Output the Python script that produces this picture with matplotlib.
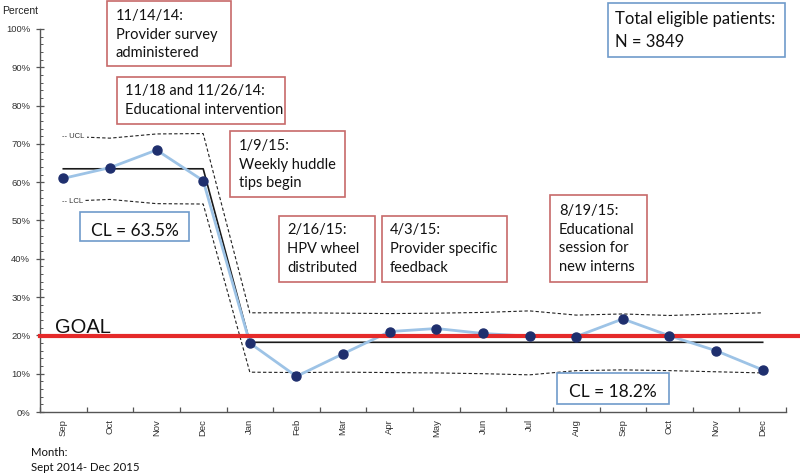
import matplotlib
matplotlib.use("Agg")
import matplotlib.pyplot as plt
from matplotlib.patches import Rectangle
from matplotlib.ticker import MultipleLocator, FixedLocator, FuncFormatter

# ---------------- data ----------------
months = ["Sep", "Oct", "Nov", "Dec", "Jan", "Feb", "Mar", "Apr", "May", "Jun",
          "Jul", "Aug", "Sep", "Oct", "Nov", "Dec"]
percent = [61.0, 63.8, 68.4, 60.4, 18.0, 9.3, 15.2, 21.0, 21.8, 20.5,
           19.8, 19.7, 24.3, 19.9, 16.0, 11.0]
cl_pre, cl_post = 63.5, 18.2
ucl_pre = [72.0, 71.5, 72.6, 72.7]
lcl_pre = [55.0, 55.5, 54.4, 54.3]
ucl_post = [25.9, 25.9, 25.8, 25.7, 25.8, 26.0, 26.4, 25.3, 25.6, 25.2, 25.6, 25.9]
lcl_post = [10.4, 10.3, 10.4, 10.3, 10.2, 10.0, 9.7, 10.8, 11.0, 10.8, 10.5, 10.2]
goal = 19.8
yticks = [0, 10, 20, 30, 40, 50, 60, 70, 80, 90, 100]

# ---------------- figure ----------------
W, H = 800, 473
fig = plt.figure(figsize=(W / 100, H / 100), dpi=100)
ax = fig.add_axes([40 / W, 1 - 412 / H, 746 / W, 383 / H])

x = list(range(len(months)))
n_pre = len(ucl_pre)

axis_font = "Liberation Sans"
box_font = "Lato"

# control limits
dash = (0, (3, 2))
ucl_all = ucl_pre + ucl_post
lcl_all = lcl_pre + lcl_post
ax.plot(x, ucl_all, color="#222222", lw=0.8, ls=dash, zorder=2)
ax.plot(x, lcl_all, color="#222222", lw=0.8, ls=dash, zorder=2)

# center line
cl_all = [cl_pre] * n_pre + [cl_post] * (len(months) - n_pre)
ax.plot(x, cl_all, color="#1a1a1a", lw=1.2, zorder=3)

# data line
ax.plot(x, percent, color="#9DC3E6", lw=2.0, zorder=4, solid_capstyle="round")

# goal line (extends past the axis end)
ax.plot([-0.5, 15.8], [goal, goal], color="#E52A2A", lw=3.0, zorder=5, clip_on=False)

# markers
ax.plot(x, percent, ls="none", marker="o", ms=6.5, color="#1F2F6E", zorder=6)

# UCL / LCL labels
for val, lab in ((ucl_pre[0], "UCL"), (lcl_pre[0], "LCL")):
    ax.text(-0.02, val, "-- " + lab, fontsize=5.5, family=axis_font, color="#333333",
            ha="left", va="center", zorder=7,
            bbox=dict(boxstyle="square,pad=0.25", fc="white", ec="none"))

ax.set_xlim(-0.5, len(months) - 0.5)
ax.set_ylim(0, 100)

ax.spines["top"].set_visible(False)
ax.spines["right"].set_visible(False)
for s in ("left", "bottom"):
    ax.spines[s].set_color("#555555")
    ax.spines[s].set_linewidth(1.0)

ax.yaxis.set_major_locator(FixedLocator(yticks))
ax.yaxis.set_minor_locator(MultipleLocator(2))
ax.yaxis.set_major_formatter(FuncFormatter(lambda v, p: f"{v:.0f}%"))
ax.tick_params(axis="y", which="major", direction="inout", length=6, width=0.9,
               color="#555555", pad=4, labelsize=6.8, labelcolor="#333333")
ax.tick_params(axis="y", which="minor", direction="in", length=2.5, width=0.7,
               color="#555555")

ax.set_xticks(x)
ax.set_xticklabels(months, rotation=90, fontsize=6.8, color="#333333", family=axis_font)
ax.xaxis.set_minor_locator(FixedLocator([i - 0.5 for i in range(len(months) + 1)]))
ax.tick_params(axis="x", which="major", length=0, pad=5)
ax.tick_params(axis="x", which="minor", direction="in", length=3.5, width=0.9,
               color="#555555")
for lab in ax.get_yticklabels():
    lab.set_family(axis_font)

# ---------------- texts / boxes in pixel coordinates ----------------
def fx(px):
    return px / W


def fy(py):
    return 1 - py / H


def box(x0, y0, x1, y1, ec):
    fig.patches.append(Rectangle((fx(x0), fy(y1)), fx(x1) - fx(x0), fy(y0) - fy(y1),
                                 transform=fig.transFigure, fill=True, fc="white",
                                 ec=ec, lw=1.2, zorder=10))


def lines(px, base0, step, rows, size=10.5, ha="left", family=box_font):
    for i, r in enumerate(rows):
        fig.text(fx(px), fy(base0 + i * step), r, fontsize=size, family=family,
                 color="#111111", ha=ha, va="baseline", zorder=11)


red = "#C76A6A"
blue = "#6F9BCB"
step = 18.7

box(107, 1, 231, 66, red)
lines(116, 20, step, ["11/14/14:", "Provider survey", "administered"])

box(117, 77, 285, 124, red)
lines(125, 95.5, step, ["11/18 and 11/26/14:", "Educational intervention"])

box(230, 131, 345, 197, red)
lines(239, 150, step, ["1/9/15:", "Weekly huddle", "tips begin"])

box(279, 216, 375, 282, red)
lines(287, 234.3, step, ["2/16/15:", "HPV wheel", "distributed"])

box(382, 216, 507, 282, red)
lines(390, 234.3, step, ["4/3/15:", "Provider specific", "feedback"])

box(550, 195, 647, 282, red)
lines(559, 215, step, ["8/19/15:", "Educational", "session for", "new interns"])

box(608, 3, 785, 57, blue)
lines(615, 24, 22.7, ["Total eligible patients:", "N = 3849"], size=12)

box(80, 212.5, 189, 241.5, blue)
lines(134.5, 235.7, 0, ["CL = 63.5%"], size=12.5, ha="center")

box(556.5, 373, 669, 403.5, blue)
lines(612.7, 396.7, 0, ["CL = 18.2%"], size=12.5, ha="center")

fig.text(fx(55), fy(333), "GOAL", fontsize=14.5, family=axis_font, color="#111111",
         ha="left", va="baseline")
fig.text(fx(2), fy(13.5), "Percent", fontsize=7.5, family=axis_font, color="#222222",
         ha="left", va="baseline")
lines(31, 456, 15, ["Month:", "Sept 2014- Dec 2015"], size=8.2)

fig.savefig("out.png", dpi=100)
